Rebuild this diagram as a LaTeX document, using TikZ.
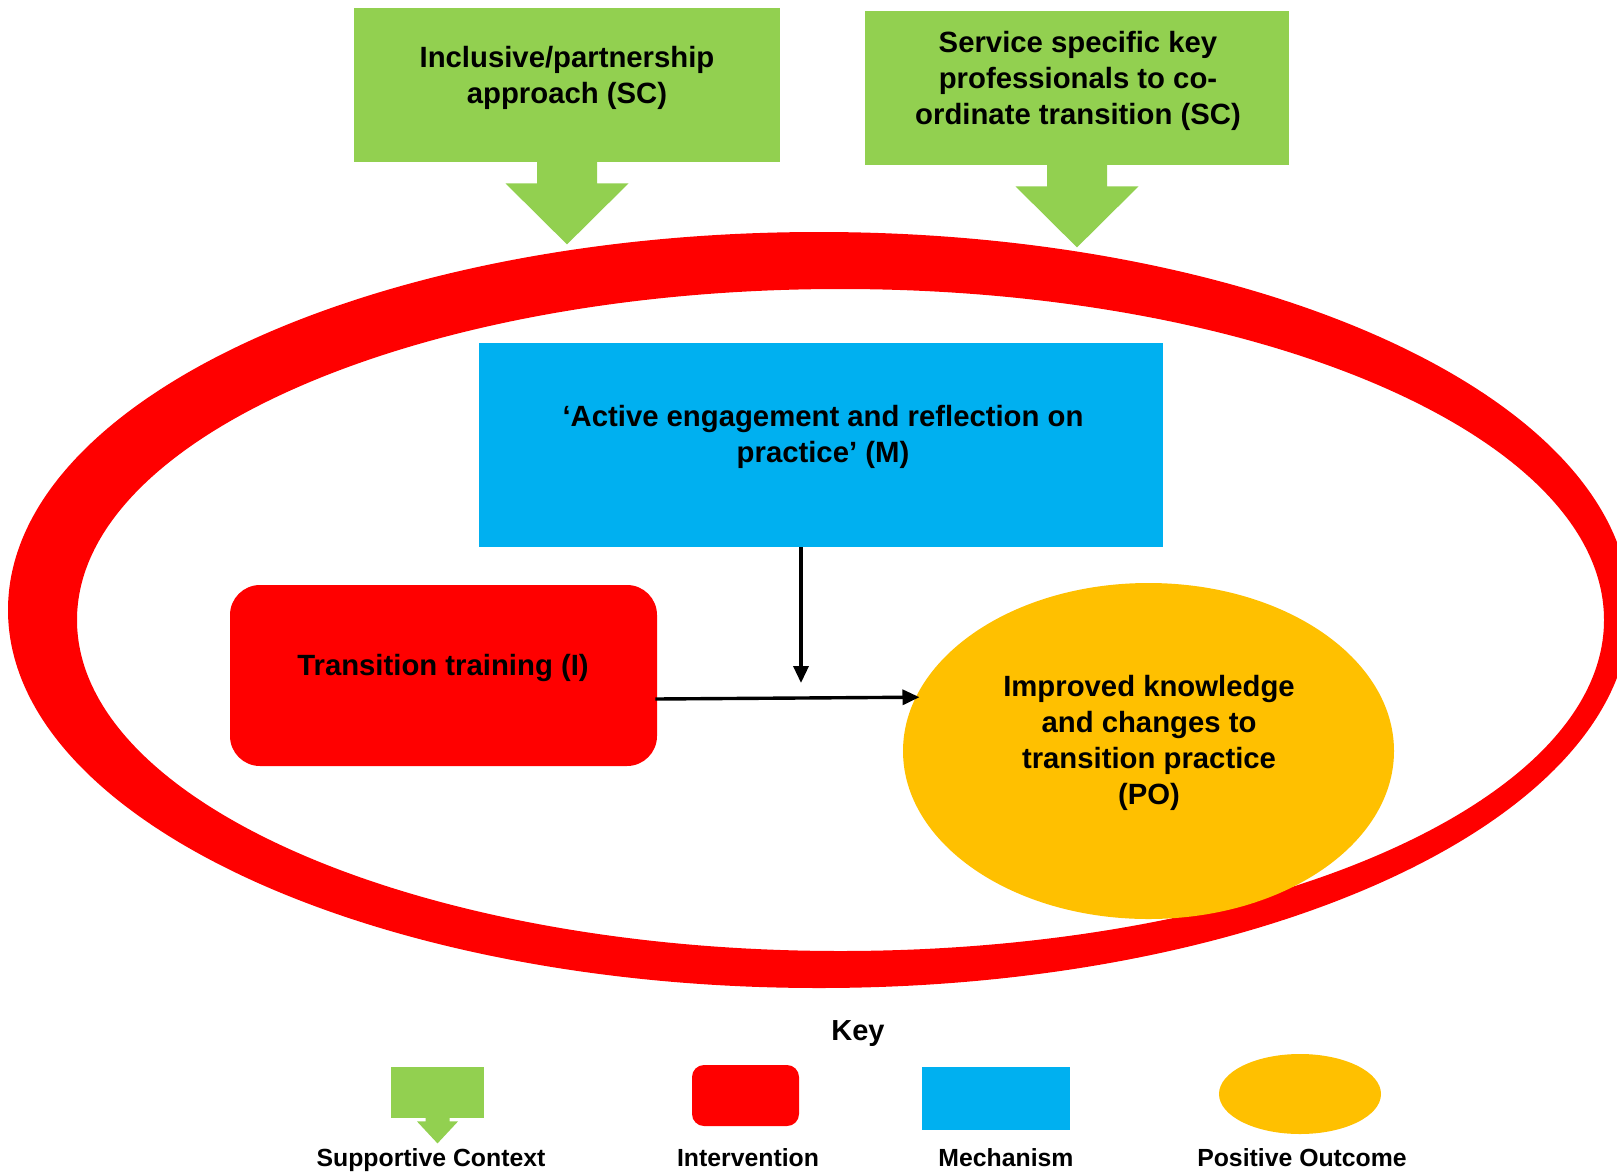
\documentclass[tikz,border=0pt]{standalone}
\usepackage{fontspec}
\setmainfont{Liberation Sans}
\usetikzlibrary{shapes.geometric,arrows.meta,calc}
\definecolor{scgreen}{HTML}{92D050}
\definecolor{ivred}{HTML}{FF0000}
\definecolor{mechblue}{HTML}{00B0F0}
\definecolor{poyellow}{HTML}{FFC000}
\begin{document}
\begin{tikzpicture}[x=0.5pt,y=-0.5pt,
  txt/.style={font=\bfseries\fontsize{14.65}{18}\selectfont, align=center, text=black, inner sep=0pt},
  keytxt/.style={font=\bfseries\fontsize{12.4}{15}\selectfont, text=black, inner sep=0pt, text height=9pt, text depth=2.6pt},
  scbox/.style={fill=scgreen, inner sep=0pt},
  ivbox/.style={fill=ivred, inner sep=0pt},
  mechbox/.style={fill=mechblue, inner sep=0pt},
  pobox/.style={ellipse, fill=poyellow, inner sep=0pt},
  link/.style={line width=1.7pt, -{Triangle[length=8.5pt,width=7.5pt]}},
  sctip/.pic={\fill[scgreen] (-30,-1) -- (30,-1) -- (30,21) -- (61.5,21) -- (0,82) -- (-61.5,21) -- (-30,21) -- cycle;},
  keytip/.pic={\fill[scgreen] (-12,-1) -- (12,-1) -- (12,3) -- (20.5,3) -- (0,25) -- (-20.5,3) -- (-12,3) -- cycle;}
]
\useasboundingbox (0,0) rectangle (1617,1173);
\clip (0,0) rectangle (1617,1173);

% context ring
\fill[ivred, even odd rule]
  (819,610) ellipse [x radius=811, y radius=378]
  (840.5,620) ellipse [x radius=763.5, y radius=331];

% supportive contexts
\node[scbox, minimum width=213pt, minimum height=77pt] (sc1) at (567,85) {};
\pic at (sc1.south) {sctip};
\node[txt] (sc1t) at (567,78) {Inclusive/partnership\\approach (SC)};

\node[scbox, minimum width=212pt, minimum height=77pt] (sc2) at (1077,88) {};
\pic at (sc2.south) {sctip};
\node[txt] (sc2t) at (1078,81) {Service specific key\\professionals to co-\\ordinate transition (SC)};

% mechanism
\node[mechbox, minimum width=342.25pt, minimum height=102pt] (mech) at (820.75,445) {};
\node[txt] (mecht) at (823,437) {‘Active engagement and reflection on\\practice’ (M)};

% intervention
\node[ivbox, rounded corners=15pt, minimum width=213.5pt, minimum height=90.5pt] (ti) at (443.5,675.5) {};
\node[txt] (tit) at (443,667.5) {Transition training (I)};

% positive outcome
\node[pobox, minimum width=245.5pt, minimum height=168pt] (po) at (1148.5,751) {};
\node[txt] (pot) at (1149,742.5) {Improved knowledge\\and changes to\\transition practice\\(PO)};

% connectors
\coordinate (join) at (801,683);
\draw[link] (mech.south -| join) -- (join);
\draw[link, shorten >=-2pt] ($(ti.east)+(-2,23.5)$) -- (po.167);

% key
\node[font=\bfseries\fontsize{14.5}{17}\selectfont, inner sep=0pt] (keyt) at (858,1034) {Key};

\node[scbox, minimum width=46.5pt, minimum height=25.5pt] (ksc) at (437.5,1092.5) {};
\pic at (ksc.south) {keytip};
\node[ivbox, rounded corners=6pt, minimum width=53.5pt, minimum height=30.5pt] (kiv) at (745.5,1095.5) {};
\node[mechbox, minimum width=74pt, minimum height=31.5pt] (kmech) at (996,1098.5) {};
\node[pobox, minimum width=81pt, minimum height=40pt] (kpo) at (1300,1094) {};

\node[keytxt] (kscl) at (431,1160) {Supportive Context};
\node[keytxt] (kivl) at (748,1160) {Intervention};
\node[keytxt] (kmechl) at (1006,1160) {Mechanism};
\node[keytxt] (kpol) at (1302,1160) {Positive Outcome};
\end{tikzpicture}
\end{document}
